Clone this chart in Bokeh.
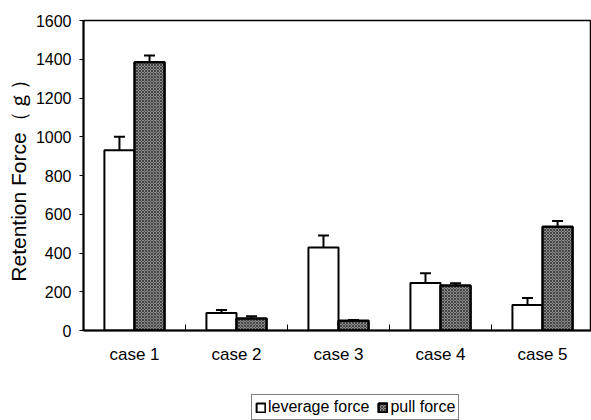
from bokeh.plotting import figure
from bokeh.layouts import column
from bokeh.models import (ColumnDataSource, Range1d, FixedTicker, Whisker, TeeHead,
                          Legend, LegendItem)
from bokeh.embed import file_html
from bokeh.resources import INLINE

# Retention force (g) per case, mean and upper error (SD)
cases = ["case 1", "case 2", "case 3", "case 4", "case 5"]
leverage_force = [930, 90, 428, 245, 132]
leverage_err = [70, 16, 62, 50, 36]
pull_force = [1385, 62, 50, 232, 535]
pull_err = [35, 12, 4, 12, 30]
y_ticks = [0, 200, 400, 600, 800, 1000, 1200, 1400, 1600]
series_names = ["leverage force", "pull force"]

FONT = "Liberation Sans"
BAR_W = 0.295
LEV_STYLE = dict(fill_color="white", line_color="black", line_width=2)
PULL_STYLE = dict(fill_color="#8a8a8a", line_color="black", line_width=2.5,
                  hatch_pattern="x", hatch_scale=3, hatch_color="#262626",
                  hatch_weight=0.7)

centers = [i + 0.5 for i in range(len(cases))]
lev_src = ColumnDataSource(dict(
    x=[c - BAR_W / 2 for c in centers], top=leverage_force,
    upper=[v + e for v, e in zip(leverage_force, leverage_err)]))
pull_src = ColumnDataSource(dict(
    x=[c + BAR_W / 2 for c in centers], top=pull_force,
    upper=[v + e for v, e in zip(pull_force, pull_err)]))

p = figure(width=591, height=366, output_backend="svg", toolbar_location=None,
           x_range=Range1d(0, 4.98), y_range=Range1d(0, 1600),
           min_border_left=83, min_border_right=0, min_border_top=20,
           min_border_bottom=36)
p.background_fill_color = "white"
p.border_fill_color = "white"
p.outline_line_color = "black"
p.outline_line_width = 1.5
p.xgrid.visible = False
p.ygrid.visible = False

p.vbar(x="x", top="top", width=BAR_W, source=lev_src, **LEV_STYLE)
p.vbar(x="x", top="top", width=BAR_W, source=pull_src, **PULL_STYLE)

for src in (lev_src, pull_src):
    w = Whisker(base="x", lower="top", upper="upper", source=src,
                line_color="black", line_width=2, lower_head=None,
                upper_head=TeeHead(size=11, line_width=2, line_color="black"))
    p.add_layout(w)

# x axis: labels under the groups, small inward ticks between groups
p.xaxis.ticker = FixedTicker(ticks=centers, minor_ticks=[1, 2, 3, 4])
p.xaxis.major_label_overrides = {c: name for c, name in zip(centers, cases)}
p.xaxis.major_tick_in = 0
p.xaxis.major_tick_out = 0
p.xaxis.minor_tick_in = 6
p.xaxis.minor_tick_out = 0
p.xaxis.minor_tick_line_color = "black"
p.xaxis.axis_line_color = "black"
p.xaxis.axis_line_width = 2
p.xaxis.major_label_standoff = 14
p.xaxis.major_label_text_font = FONT
p.xaxis.major_label_text_font_size = "17px"
p.xaxis.major_label_text_color = "black"

p.yaxis.ticker = FixedTicker(ticks=y_ticks, minor_ticks=[])
p.yaxis.major_tick_in = 0
p.yaxis.major_tick_out = 4
p.yaxis.major_tick_line_color = "black"
p.yaxis.axis_line_color = "black"
p.yaxis.axis_line_width = 2
p.yaxis.major_label_standoff = 8
p.yaxis.major_label_text_font = FONT
p.yaxis.major_label_text_font_size = "16px"
p.yaxis.major_label_text_color = "black"
p.yaxis.axis_label = "Retention Force（ｇ）"
p.yaxis.axis_label_text_font = FONT
p.yaxis.axis_label_text_font_style = "normal"
p.yaxis.axis_label_text_font_size = "21px"
p.yaxis.axis_label_text_color = "black"
p.yaxis.axis_label_standoff = 3

# legend strip under the chart; the zero-size swatch renderers sit
# behind the legend box, which is drawn over them
lg = figure(width=591, height=54, output_backend="svg", toolbar_location=None,
            x_range=Range1d(0, 1), y_range=Range1d(0, 1),
            min_border=0, x_axis_type=None, y_axis_type=None)
lg.outline_line_color = None
lg.xgrid.visible = False
lg.ygrid.visible = False
sw_lev = lg.vbar(x=[0.5], bottom=[0.25], top=[0.25], width=0, **LEV_STYLE)
sw_pull = lg.vbar(x=[0.5], bottom=[0.25], top=[0.25], width=0, **PULL_STYLE)

legend = Legend(items=[LegendItem(label=series_names[0], renderers=[sw_lev]),
                       LegendItem(label=series_names[1], renderers=[sw_pull])],
                orientation="horizontal", location=(168, 0))
legend.border_line_color = "black"
legend.border_line_width = 1
legend.background_fill_color = "white"
legend.background_fill_alpha = 1.0
legend.padding = 3
legend.margin = 0
legend.spacing = 8
legend.glyph_width = 11
legend.glyph_height = 11
legend.label_standoff = 2
legend.label_text_font = FONT
legend.label_text_font_size = "16px"
legend.label_text_color = "black"
lg.add_layout(legend, "center")

open("out.html", "w").write(file_html(column(p, lg, spacing=0), INLINE))
